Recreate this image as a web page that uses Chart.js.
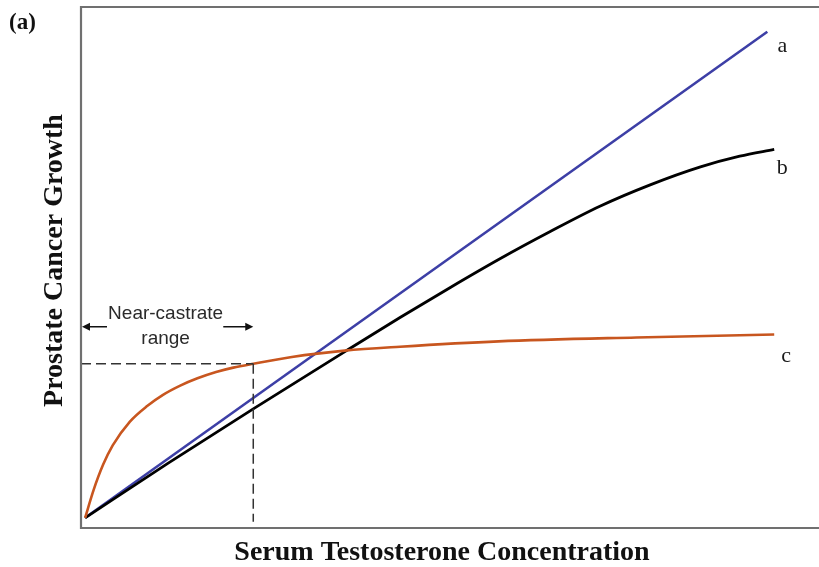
<!DOCTYPE html>
<html>
<head>
<meta charset="utf-8">
<script src="https://cdn.jsdelivr.net/npm/chart.js@4.4.1/dist/chart.umd.min.js"></script>
<style>
  html, body { margin: 0; padding: 0; background: #fff; }
  #wrap { width: 819px; height: 567px; position: relative; }
</style>
</head>
<body>
<div id="wrap"><canvas id="grafica"></canvas></div>
<script>
// Valores (unidades arbitrarias)
const curvaA_x = [0, 99];
const curvaA_y = [0, 100];

const curvaB_x = [0, 12, 24.4, 37.7, 45.7, 53, 60.2, 67.5, 74.7, 82, 89.3, 95, 100];
const curvaB_y = [0, 11.2, 22.4, 34.2, 41.2, 47.4, 53.3, 58.9, 64.1, 68.5, 72.2, 74.4, 75.8];

const curvaC_x = [0, 1.2, 2.6, 4, 6.5, 9, 11.3, 13.8, 16.3, 19, 21.5, 24.4, 30, 37.7, 45.7, 60, 80, 100];
const curvaC_y = [0, 5.6, 10.9, 14.9, 19.8, 23.0, 25.3, 27.2, 28.7, 30.0, 30.9, 31.7, 33.1, 34.4, 35.2, 36.3, 37.1, 37.7];

const etiquetas = ['a', 'b', 'c'];
const limiteCastracion = 24.4;   // x del límite del rango cercano a castración
const nivelCastracion = 31.7;    // y de la curva c en ese límite
const nivelFlecha = 39.3;

const X_MIN = -0.6, X_MAX = 106.5;
const Y_MIN = -2.1, Y_MAX = 105.1;

const COLOR_A = '#3d3fa6';
const COLOR_B = '#000000';
const COLOR_C = '#c8561f';
const COLOR_MARCO = '#707070';

function puntos(xs, ys) {
  return xs.map((x, i) => ({ x: x, y: ys[i] }));
}

// Marco, textos y flecha
const decoracion = {
  id: 'decoracion',
  afterDraw(chart) {
    const { ctx, chartArea: ca, scales } = chart;
    const sx = scales.x, sy = scales.y;
    ctx.save();

    // marco (sin borde derecho)
    ctx.strokeStyle = COLOR_MARCO;
    ctx.lineWidth = 2.2;
    ctx.beginPath();
    ctx.moveTo(chart.width, ca.top);
    ctx.lineTo(ca.left, ca.top);
    ctx.lineTo(ca.left, ca.bottom);
    ctx.lineTo(chart.width, ca.bottom);
    ctx.stroke();

    // flecha del rango cercano a castración
    const yF = sy.getPixelForValue(nivelFlecha);
    const x0 = ca.left + 1;
    const x1 = sx.getPixelForValue(limiteCastracion);
    ctx.strokeStyle = '#111';
    ctx.fillStyle = '#111';
    ctx.lineWidth = 1.5;
    ctx.beginPath();
    ctx.moveTo(x0 + 6, yF); ctx.lineTo(x0 + 25, yF);
    ctx.moveTo(x1 - 30, yF); ctx.lineTo(x1 - 7, yF);
    ctx.stroke();
    ctx.beginPath();
    ctx.moveTo(x0, yF); ctx.lineTo(x0 + 8, yF - 4); ctx.lineTo(x0 + 8, yF + 4); ctx.closePath();
    ctx.moveTo(x1, yF); ctx.lineTo(x1 - 8, yF - 4); ctx.lineTo(x1 - 8, yF + 4); ctx.closePath();
    ctx.fill();

    ctx.fillStyle = '#2a2a2a';
    ctx.font = '19px "Liberation Sans", Arial, sans-serif';
    ctx.textAlign = 'center';
    ctx.textBaseline = 'middle';
    const xm = (x0 + x1) / 2 - 2;
    ctx.fillText('Near-castrate', xm, yF - 13);
    ctx.fillText('range', xm, yF + 12);

    // etiquetas de las curvas
    ctx.fillStyle = '#1a1a1a';
    ctx.font = '22px "Liberation Serif", "Times New Roman", serif';
    const finales = [
      [curvaA_x[curvaA_x.length - 1], curvaA_y[curvaA_y.length - 1], 15, 14],
      [curvaB_x[curvaB_x.length - 1], curvaB_y[curvaB_y.length - 1], 8, 19],
      [curvaC_x[curvaC_x.length - 1], curvaC_y[curvaC_y.length - 1], 12, 22]
    ];
    finales.forEach((f, i) => {
      ctx.fillText(etiquetas[i], sx.getPixelForValue(f[0]) + f[2], sy.getPixelForValue(f[1]) + f[3]);
    });

    // títulos
    ctx.fillStyle = '#111';
    ctx.font = 'bold 28px "Liberation Serif", "Times New Roman", serif';
    ctx.fillText('Serum Testosterone Concentration', (ca.left + chart.width) / 2 - 8, ca.bottom + 25);
    ctx.save();
    ctx.translate(55, (ca.top + ca.bottom) / 2 - 7);
    ctx.rotate(-Math.PI / 2);
    ctx.fillText('Prostate Cancer Growth', 0, 0);
    ctx.restore();

    ctx.font = 'bold 23px "Liberation Serif", "Times New Roman", serif';
    ctx.textAlign = 'left';
    ctx.fillText('(a)', 9, 23);

    ctx.restore();
  }
};

new Chart(document.getElementById('grafica'), {
  type: 'line',
  data: {
    datasets: [
      {
        label: 'guía horizontal',
        data: [{ x: X_MIN, y: nivelCastracion }, { x: limiteCastracion, y: nivelCastracion }],
        borderColor: '#333', borderWidth: 1.5, borderDash: [10, 5],
        pointRadius: 0, tension: 0
      },
      {
        label: 'guía vertical',
        data: [{ x: limiteCastracion, y: nivelCastracion }, { x: limiteCastracion, y: -0.8 }],
        borderColor: '#333', borderWidth: 1.5, borderDash: [10, 5],
        pointRadius: 0, tension: 0
      },
      {
        label: etiquetas[2],
        data: puntos(curvaC_x, curvaC_y),
        borderColor: COLOR_C, borderWidth: 2.6,
        pointRadius: 0, cubicInterpolationMode: 'monotone'
      },
      {
        label: etiquetas[1],
        data: puntos(curvaB_x, curvaB_y),
        borderColor: COLOR_B, borderWidth: 2.8,
        pointRadius: 0, cubicInterpolationMode: 'monotone'
      },
      {
        label: etiquetas[0],
        data: puntos(curvaA_x, curvaA_y),
        borderColor: COLOR_A, borderWidth: 2.6,
        pointRadius: 0, tension: 0
      }
    ]
  },
  options: {
    responsive: true,
    maintainAspectRatio: false,
    animation: false,
    layout: { padding: { left: 81, top: 7, right: 0, bottom: 39 } },
    plugins: { legend: { display: false }, tooltip: { enabled: false } },
    scales: {
      x: { type: 'linear', display: false, min: X_MIN, max: X_MAX },
      y: { type: 'linear', display: false, min: Y_MIN, max: Y_MAX }
    }
  },
  plugins: [decoracion]
});
</script>
</body>
</html>
